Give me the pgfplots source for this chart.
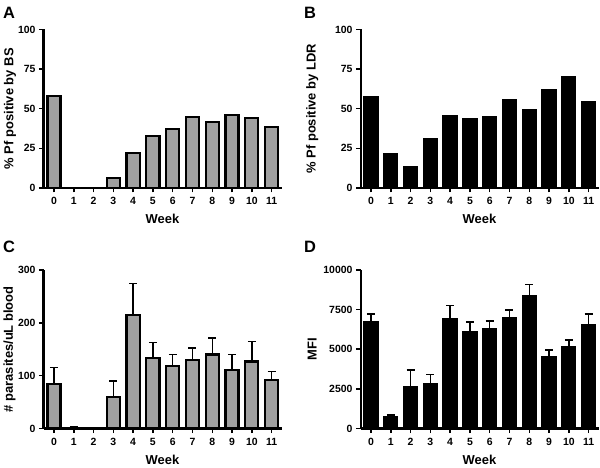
\documentclass[border=0pt]{standalone}
\usepackage{pgfplots}
\pgfplotsset{compat=1.18}
\usepackage{fontspec}
\setmainfont{Liberation Sans}
\definecolor{barGray}{RGB}{160,160,160}

\pgfplotsset{
  panel/.style={
    scale only axis, width=238bp, height=158.5bp,
    axis x line=bottom, axis y line=left,
    axis line style={line width=2bp,-},
    xmin=-0.53, xmax=11.5, ymin=0,
    xtick={0,...,11}, tick align=outside,
    major tick length=4.5bp,
    tick style={line width=1.5bp,black},
    tick label style={font=\bfseries\fontsize{10.5}{12}\selectfont},
    xticklabel style={yshift=-1.5bp},
    /pgf/number format/assume math mode=true,
    /pgf/number format/1000 sep={},
    scaled y ticks=false,
    xlabel={Week},
    label style={font=\bfseries\fontsize{13}{15}\selectfont},
    xlabel style={at={(axis description cs:0.5,-0.195)},anchor=center},
    ybar, bar width=0.66,
    error bars/error bar style={line width=1.4bp,black},
    error bars/error mark options={rotate=90,mark size=4bp,line width=1.4bp,black},
  },
  grayBar/.style={fill=barGray,draw=black,line width=2.2bp},
  blackBar/.style={fill=black,draw=black,line width=2.2bp},
}

\pgfplotstableread{
w v
0 58
1 0
2 0
3 6.3
4 22
5 33
6 37.3
7 44.6
8 41.5
9 46
10 44
11 38.5
}\tabA

\pgfplotstableread{
w v
0 57.1
1 21.2
2 13.2
3 31.1
4 45.4
5 43.7
6 44.7
7 55.5
8 48.9
9 61.8
10 70
11 54.4
}\tabB

\pgfplotstableread{
w v e
0 84 32
1 0 3
2 0 0
3 60 30
4 215 60
5 134 29
6 118.5 22
7 130 22
8 140 31
9 110 30.5
10 127 37.5
11 91.4 16.6
}\tabC

\pgfplotstableread{
w v e
0 6695 526
1 695 165
2 2590 1094
3 2800 610
4 6905 842
5 6084 632
6 6252 527
7 6947 527
8 8379 716
9 4505 442
10 5137 442
11 6547 674
}\tabD

\begin{document}
\begin{tikzpicture}
\useasboundingbox (0,0) rectangle (600bp,468bp);

% panel A
\begin{axis}[panel, at={(43.5bp,280bp)}, anchor=south west,
  ymax=100, ytick={0,25,50,75,100},
  ylabel={\% Pf positive by BS},
  ylabel style={at={(axis description cs:-0.141,0.5)},anchor=center}]
\addplot[grayBar] table[x=w,y=v] {\tabA};
\end{axis}

% panel B
\begin{axis}[panel, at={(360.5bp,280bp)}, anchor=south west,
  ymax=100, ytick={0,25,50,75,100},
  ylabel={\% Pf positive by LDR},
  ylabel style={at={(axis description cs:-0.203,0.5)},anchor=center}]
\addplot[blackBar] table[x=w,y=v] {\tabB};
\end{axis}

% panel C
\begin{axis}[panel, at={(43.5bp,39.5bp)}, anchor=south west,
  ymax=300, ytick={0,100,200,300},
  ylabel={\# parasites/uL blood},
  ylabel style={at={(axis description cs:-0.143,0.5)},anchor=center}]
\addplot[grayBar, error bars/.cd, y dir=plus, y explicit]
  table[x=w,y=v,y error=e] {\tabC};
\end{axis}

% panel D
\begin{axis}[panel, at={(360.5bp,39.5bp)}, anchor=south west,
  ymax=10000, ytick={0,2500,5000,7500,10000},
  ylabel={MFI},
  ylabel style={at={(axis description cs:-0.203,0.5)},anchor=center}]
\addplot[blackBar, error bars/.cd, y dir=plus, y explicit]
  table[x=w,y=v,y error=e] {\tabD};
\end{axis}

\begin{scope}[every node/.style={font=\bfseries\fontsize{16.5}{18}\selectfont,inner sep=0pt,anchor=north west}]
\node at (3bp,461bp) {A};
\node at (304bp,461bp) {B};
\node at (3bp,227bp) {C};
\node at (304bp,227bp) {D};
\end{scope}
\end{tikzpicture}
\end{document}
